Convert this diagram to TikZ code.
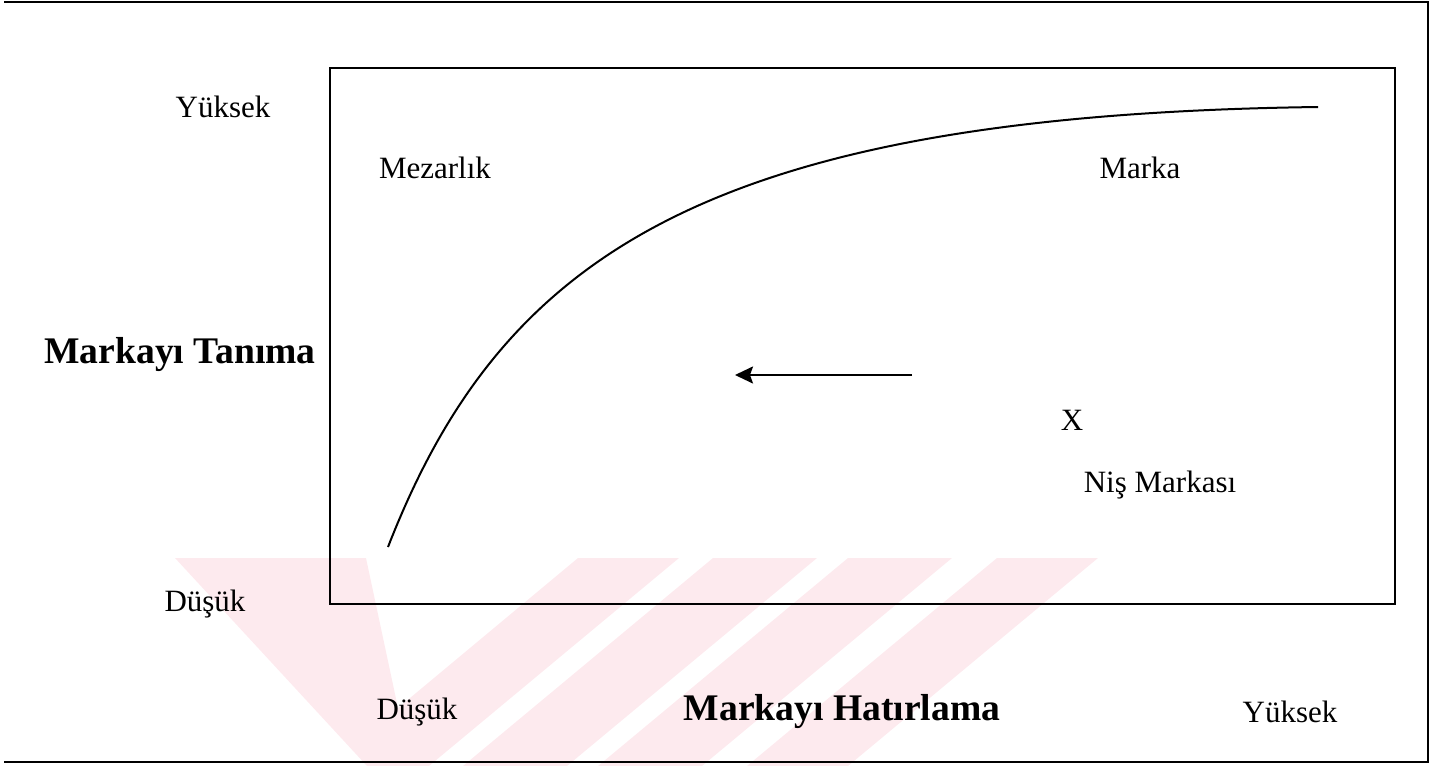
\documentclass[tikz,border=0pt]{standalone}
\usepackage{fontspec}
\setmainfont{Liberation Serif}
\usetikzlibrary{arrows.meta}
\definecolor{wm}{RGB}{253,234,238}
\tikzset{
  lbl/.style={inner sep=0pt, font=\fontsize{15.5}{18}\selectfont},
  blbl/.style={inner sep=0pt, font=\fontsize{18.8}{22}\selectfont\bfseries},
  frame/.style={line width=1pt, line cap=rect},
  curveline/.style={line width=1pt},
  wmark/.style={fill=wm, draw=none}
}
\begin{document}
\begin{tikzpicture}[x=0.5pt,y=-0.5pt]
\useasboundingbox (0,0) rectangle (1431,766);
% watermark
\begin{scope}
\clip (0,0) rectangle (1431,766);
\fill[wmark] (175,558) -- (366,558) -- (398,708) -- (578,558) -- (679,558)
   -- (429,766) -- (367,766) -- cycle;
\fill[wmark] (713,558) -- (817,558) -- (567,766) -- (463,766) -- cycle;
\fill[wmark] (848,558) -- (952,558) -- (702,766) -- (598,766) -- cycle;
\fill[wmark] (997,558) -- (1098,558) -- (848,766) -- (747,766) -- cycle;
\end{scope}
% outer frame (no left side)
\coordinate (oTL) at (5,2);
\coordinate (oTR) at (1428,2);
\coordinate (oBR) at (1428,762);
\coordinate (oBL) at (5,762);
\draw[frame] (oTL) -- (oTR) -- (oBR) -- (oBL);
% inner box
\coordinate (iTL) at (330,68);
\coordinate (iBR) at (1395,604);
\draw[frame] (iTL) rectangle (iBR);
% curve
\coordinate (cs) at (388,547);
\coordinate (ce) at (1318,107);
\draw[curveline] (cs) .. controls (500,260) and (700,115) .. (ce);
% arrow
\coordinate (as) at (912,375);
\coordinate (ae) at (735,375);
\draw[curveline, -{Stealth[length=9pt,width=8.5pt,inset=1.5pt]}] (as) -- (ae);
% labels
\node[lbl] (yh) at (223,107) {Yüksek};
\node[lbl] (mez) at (435,168) {Mezarlık};
\node[lbl] (mar) at (1140,168) {Marka};
\node[blbl, anchor=east] (mt) at (316,355) {Markayı Tanıma};
\node[lbl] (x) at (1072,420) {X};
\node[lbl] (nis) at (1160,485) {Niş Markası};
\node[lbl] (dl) at (205,604) {Düşük};
\node[lbl] (db) at (417,712) {Düşük};
\node[blbl] (mh) at (842,712) {Markayı Hatırlama};
\node[lbl] (yb) at (1290,712) {Yüksek};
\end{tikzpicture}
\end{document}
